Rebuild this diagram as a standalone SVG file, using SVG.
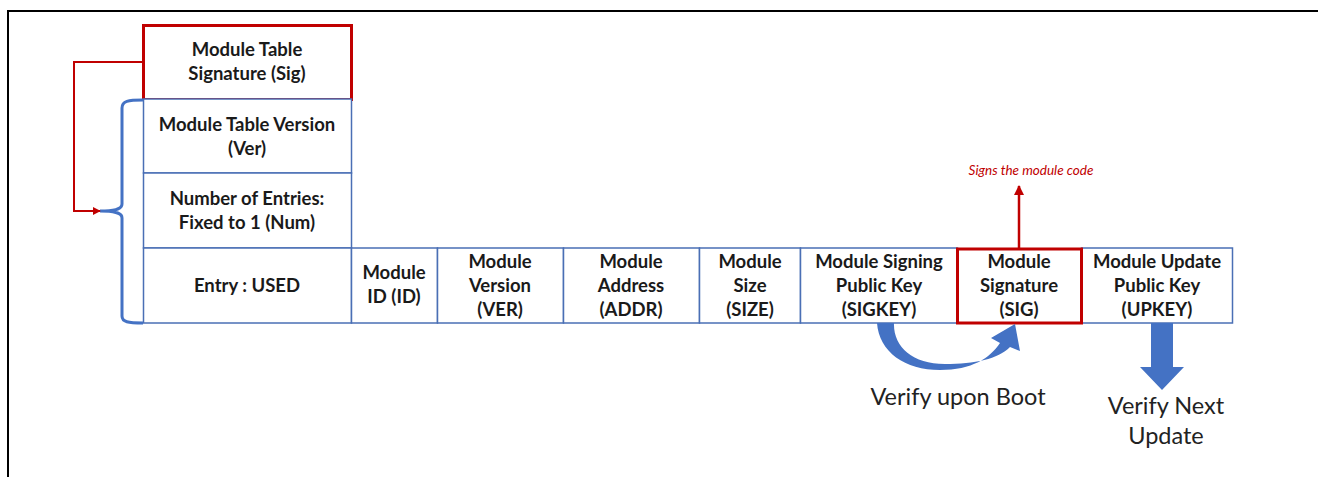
<svg xmlns="http://www.w3.org/2000/svg" width="1318" height="477" viewBox="0 0 1318 477">
<defs>
<style>
.cell{fill:#fff;stroke:#4a6fb5;stroke-width:1.5}
.red{fill:#fff;stroke:#c00000;stroke-width:3}
.t{font-family:Lato,"Liberation Sans",sans-serif;font-weight:bold;font-size:18.5px;fill:#1a1a1a;text-anchor:middle}
.big{font-family:Lato,"Liberation Sans",sans-serif;font-size:23.5px;fill:#222;text-anchor:middle}
.note{font-family:Lato,"Liberation Sans",sans-serif;font-style:italic;font-size:13.5px;fill:#c00000;text-anchor:middle}
</style>
<marker id="ra" viewBox="0 0 10 10" refX="9" refY="5" markerWidth="4" markerHeight="4" orient="auto"><path d="M0,0L10,5L0,10z" fill="#c00000"/></marker>
<marker id="ru" viewBox="0 0 10 10" refX="9" refY="5" markerWidth="4" markerHeight="4" orient="auto"><path d="M0,0L10,5L0,10z" fill="#c00000"/></marker>
</defs>
<rect width="1318" height="477" fill="#fff"/>
<path d="M8,478V11H1318" fill="none" stroke="#000" stroke-width="2"/>

<g id="frame-nodes">
<g id="sig"><rect class="red" x="143.5" y="25.5" width="208" height="74"/><text class="t" x="247" y="56">Module Table</text><text class="t" x="247" y="80">Signature (Sig)</text></g>
<g id="ver"><rect class="cell" x="143.5" y="99" width="208" height="74"/><text class="t" x="247" y="131">Module Table Version</text><text class="t" x="247" y="155">(Ver)</text></g>
<g id="num"><rect class="cell" x="143.5" y="173" width="208" height="75"/><text class="t" x="247" y="205">Number of Entries:</text><text class="t" x="247" y="229">Fixed to 1 (Num)</text></g>
<g id="entry"><rect class="cell" x="143.5" y="248" width="208" height="75"/><text class="t" x="247" y="292">Entry : USED</text></g>
<g id="id"><rect class="cell" x="351.5" y="248" width="86" height="75"/><text class="t" x="394" y="279">Module</text><text class="t" x="394" y="303">ID (ID)</text></g>
<g id="mver"><rect class="cell" x="437.5" y="248" width="126" height="75"/><text class="t" x="500" y="268">Module</text><text class="t" x="500" y="292">Version</text><text class="t" x="500" y="316">(VER)</text></g>
<g id="addr"><rect class="cell" x="563.5" y="248" width="136" height="75"/><text class="t" x="631" y="268">Module</text><text class="t" x="631" y="292">Address</text><text class="t" x="631" y="316">(ADDR)</text></g>
<g id="size"><rect class="cell" x="699.5" y="248" width="101" height="75"/><text class="t" x="750" y="268">Module</text><text class="t" x="750" y="292">Size</text><text class="t" x="750" y="316">(SIZE)</text></g>
<g id="sigkey"><rect class="cell" x="800.5" y="248" width="157" height="75"/><text class="t" x="879" y="268">Module Signing</text><text class="t" x="879" y="292">Public Key</text><text class="t" x="879" y="316">(SIGKEY)</text></g>
<g id="upkey"><rect class="cell" x="1081.5" y="248" width="151" height="75"/><text class="t" x="1157" y="268">Module Update</text><text class="t" x="1157" y="292">Public Key</text><text class="t" x="1157" y="316">(UPKEY)</text></g>
<g id="msig"><rect class="red" x="957.5" y="249" width="124" height="74"/><text class="t" x="1019" y="268">Module</text><text class="t" x="1019" y="292">Signature</text><text class="t" x="1019" y="316">(SIG)</text></g>
<g id="brace"><path d="M143,100C128,100 122,101 122,108V204C122,208 118,211 100,211C118,211 122,214 122,218V316C122,322 128,323 143,323" fill="none" stroke="#4472c4" stroke-width="3"/></g>
<g id="labels">
<text class="note" x="1031" y="175">Signs the module code</text>
<text class="big" x="958" y="405">Verify upon Boot</text>
<text class="big" x="1166" y="414">Verify Next</text>
<text class="big" x="1166" y="444">Update</text>
</g>
</g>

<g id="connectors">
<path d="M143,62H74V211H100" fill="none" stroke="#c00000" stroke-width="2" marker-end="url(#ra)"/>
<path d="M1019,248V186" fill="none" stroke="#c00000" stroke-width="2.5" marker-end="url(#ru)"/>
<path d="M877,323C879,352 905,370 940,370C972,370 990,358 1000,343L991,338L1015,324L1020,351L1010,347C998,359 975,364 945,364C912,364 893,346 894,323Z" fill="#4472c4"/>
<path d="M1151,323H1173V367H1184L1162,390L1140,367H1151Z" fill="#4472c4"/>
</g>
</svg>
